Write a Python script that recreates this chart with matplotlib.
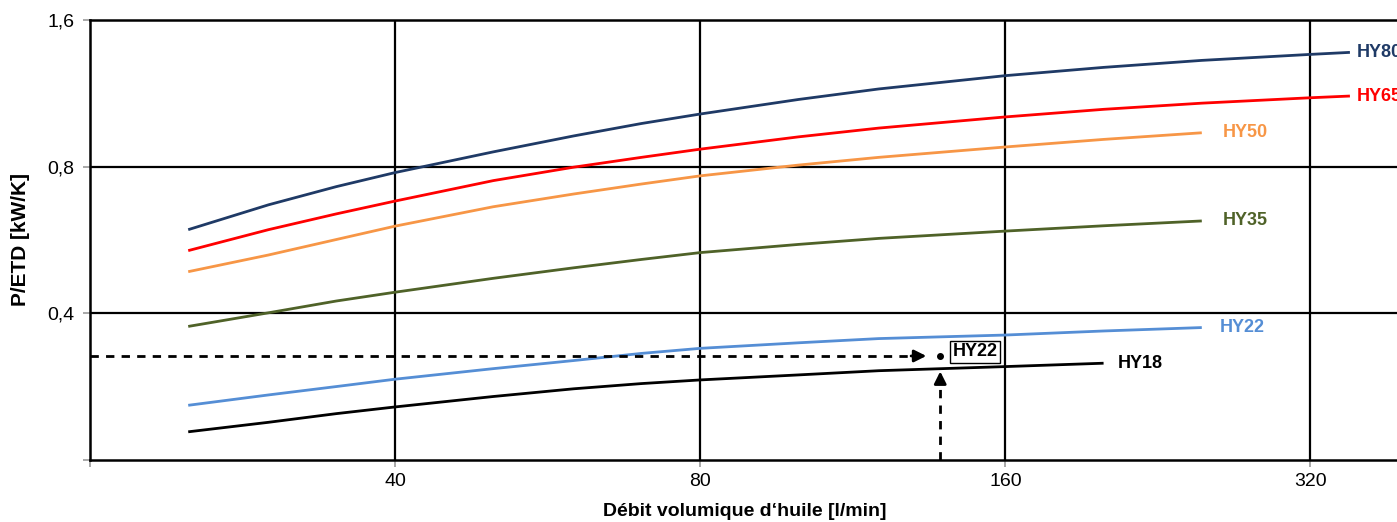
import matplotlib.pyplot as plt
from matplotlib.ticker import FixedLocator, NullLocator

plt.rcParams['font.family'] = ['Liberation Sans', 'DejaVu Sans']

# flow rate [l/min] at which the curves were read
x_long = [25, 30, 35, 40, 50, 60, 70, 80, 100, 120, 160, 200, 250, 320, 350]
x_mid = [25, 30, 35, 40, 50, 60, 70, 80, 100, 120, 160, 200, 250]
x_short = [25, 30, 35, 40, 50, 60, 70, 80, 100, 120, 160, 200]

hy80 = [0.594, 0.668, 0.728, 0.778, 0.858, 0.925, 0.981, 1.026, 1.099, 1.155, 1.230, 1.279, 1.322, 1.360, 1.373]
hy65 = [0.538, 0.594, 0.640, 0.680, 0.749, 0.798, 0.836, 0.869, 0.921, 0.960, 1.012, 1.049, 1.080, 1.108, 1.117]
hy50 = [0.487, 0.527, 0.567, 0.604, 0.662, 0.703, 0.737, 0.766, 0.806, 0.836, 0.878, 0.910, 0.939]
hy35 = [0.376, 0.401, 0.424, 0.442, 0.472, 0.496, 0.516, 0.533, 0.554, 0.570, 0.590, 0.605, 0.619]
hy22 = [0.259, 0.272, 0.283, 0.293, 0.308, 0.320, 0.331, 0.339, 0.348, 0.355, 0.361, 0.368, 0.374]
hy18 = [0.2285, 0.239, 0.249, 0.257, 0.270, 0.280, 0.287, 0.292, 0.299, 0.305, 0.311, 0.316]

x_ticks = [20, 40, 80, 160, 320]
x_labels = ['', '40', '80', '160', '320']
y_ticks = [0.2, 0.4, 0.8, 1.6]
y_labels = ['', '0,4', '0,8', '1,6']

# reading example: 138 l/min -> about 0.33 kW/K
ex_x = 138
ex_y = 0.327
ex_curve = 0.308

fig = plt.figure(figsize=(13.97, 5.22), dpi=100)
ax = fig.add_axes([90 / 1397, 1 - 460 / 522, 1 - 90 / 1397 + 0.002, 440 / 522])

ax.set_xscale('log', base=2)
ax.set_yscale('log', base=2)
ax.set_xlim(20, 392)
ax.set_ylim(0.2, 1.6)

series = [
    (x_long, hy80, '#1F3A66', 'HY80', 5),
    (x_long, hy65, '#FF0000', 'HY65', 5),
    (x_mid, hy50, '#F79646', 'HY50', 15),
    (x_mid, hy35, '#4F6228', 'HY35', 15),
    (x_mid, hy22, '#558ED5', 'HY22', 13),
    (x_short, hy18, '#000000', 'HY18', 10),
]
for xs, ys, col, name, off in series:
    ax.plot(xs, ys, color=col, lw=2, solid_capstyle='butt', zorder=3)
    ax.annotate(name, xy=(xs[-1], ys[-1]), xytext=(off, 0), textcoords='offset points',
                color=col, fontsize=13, fontweight='bold', va='center', ha='left',
                annotation_clip=False)

# grid
for gx in x_ticks[1:]:
    ax.axvline(gx, color='black', lw=1.6, zorder=2)
for gy in y_ticks[1:3]:
    ax.axhline(gy, color='black', lw=1.6, zorder=2)

# reading example arrows
ax.plot([20, ex_x * 0.95], [ex_y, ex_y], color='black', lw=2, dashes=(3, 2.6), zorder=4)
ax.annotate('', xy=(ex_x * 0.975, ex_y), xytext=(ex_x * 0.93, ex_y),
            arrowprops=dict(arrowstyle='-|>', color='black', lw=2, mutation_scale=18), zorder=5)
ax.plot([ex_x, ex_x], [0.2, ex_curve * 0.955], color='black', lw=2, dashes=(3, 2.6), zorder=4)
ax.annotate('', xy=(ex_x, ex_curve), xytext=(ex_x, ex_curve * 0.94),
            arrowprops=dict(arrowstyle='-|>', color='black', lw=2, mutation_scale=18), zorder=5)
ax.plot([ex_x], [ex_y], 'o', color='black', ms=4, zorder=5)
ax.text(ex_x * 1.028, ex_y * 1.02, 'HY22', fontsize=13, fontweight='bold', va='center', ha='left',
        bbox=dict(boxstyle='square,pad=0.15', fc='white', ec='black', lw=1), zorder=6)

# axes styling
ax.xaxis.set_major_locator(FixedLocator(x_ticks))
ax.xaxis.set_minor_locator(NullLocator())
ax.set_xticklabels(x_labels)
ax.yaxis.set_major_locator(FixedLocator(y_ticks))
ax.yaxis.set_minor_locator(NullLocator())
ax.set_yticklabels(y_labels)
ax.tick_params(axis='both', length=5, width=1.2, color='#999999', labelsize=14, pad=4)
ax.tick_params(axis='y', pad=6)

ax.spines['right'].set_visible(False)
for s in ['top', 'left', 'bottom']:
    ax.spines[s].set_linewidth(1.8)

ax.set_xlabel("Débit volumique d‘huile [l/min]", fontsize=14, fontweight='bold', labelpad=10)
ax.set_ylabel('P/ETD [kW/K]', fontsize=15, fontweight='bold', labelpad=13)

fig.savefig('out.png', dpi=100)
